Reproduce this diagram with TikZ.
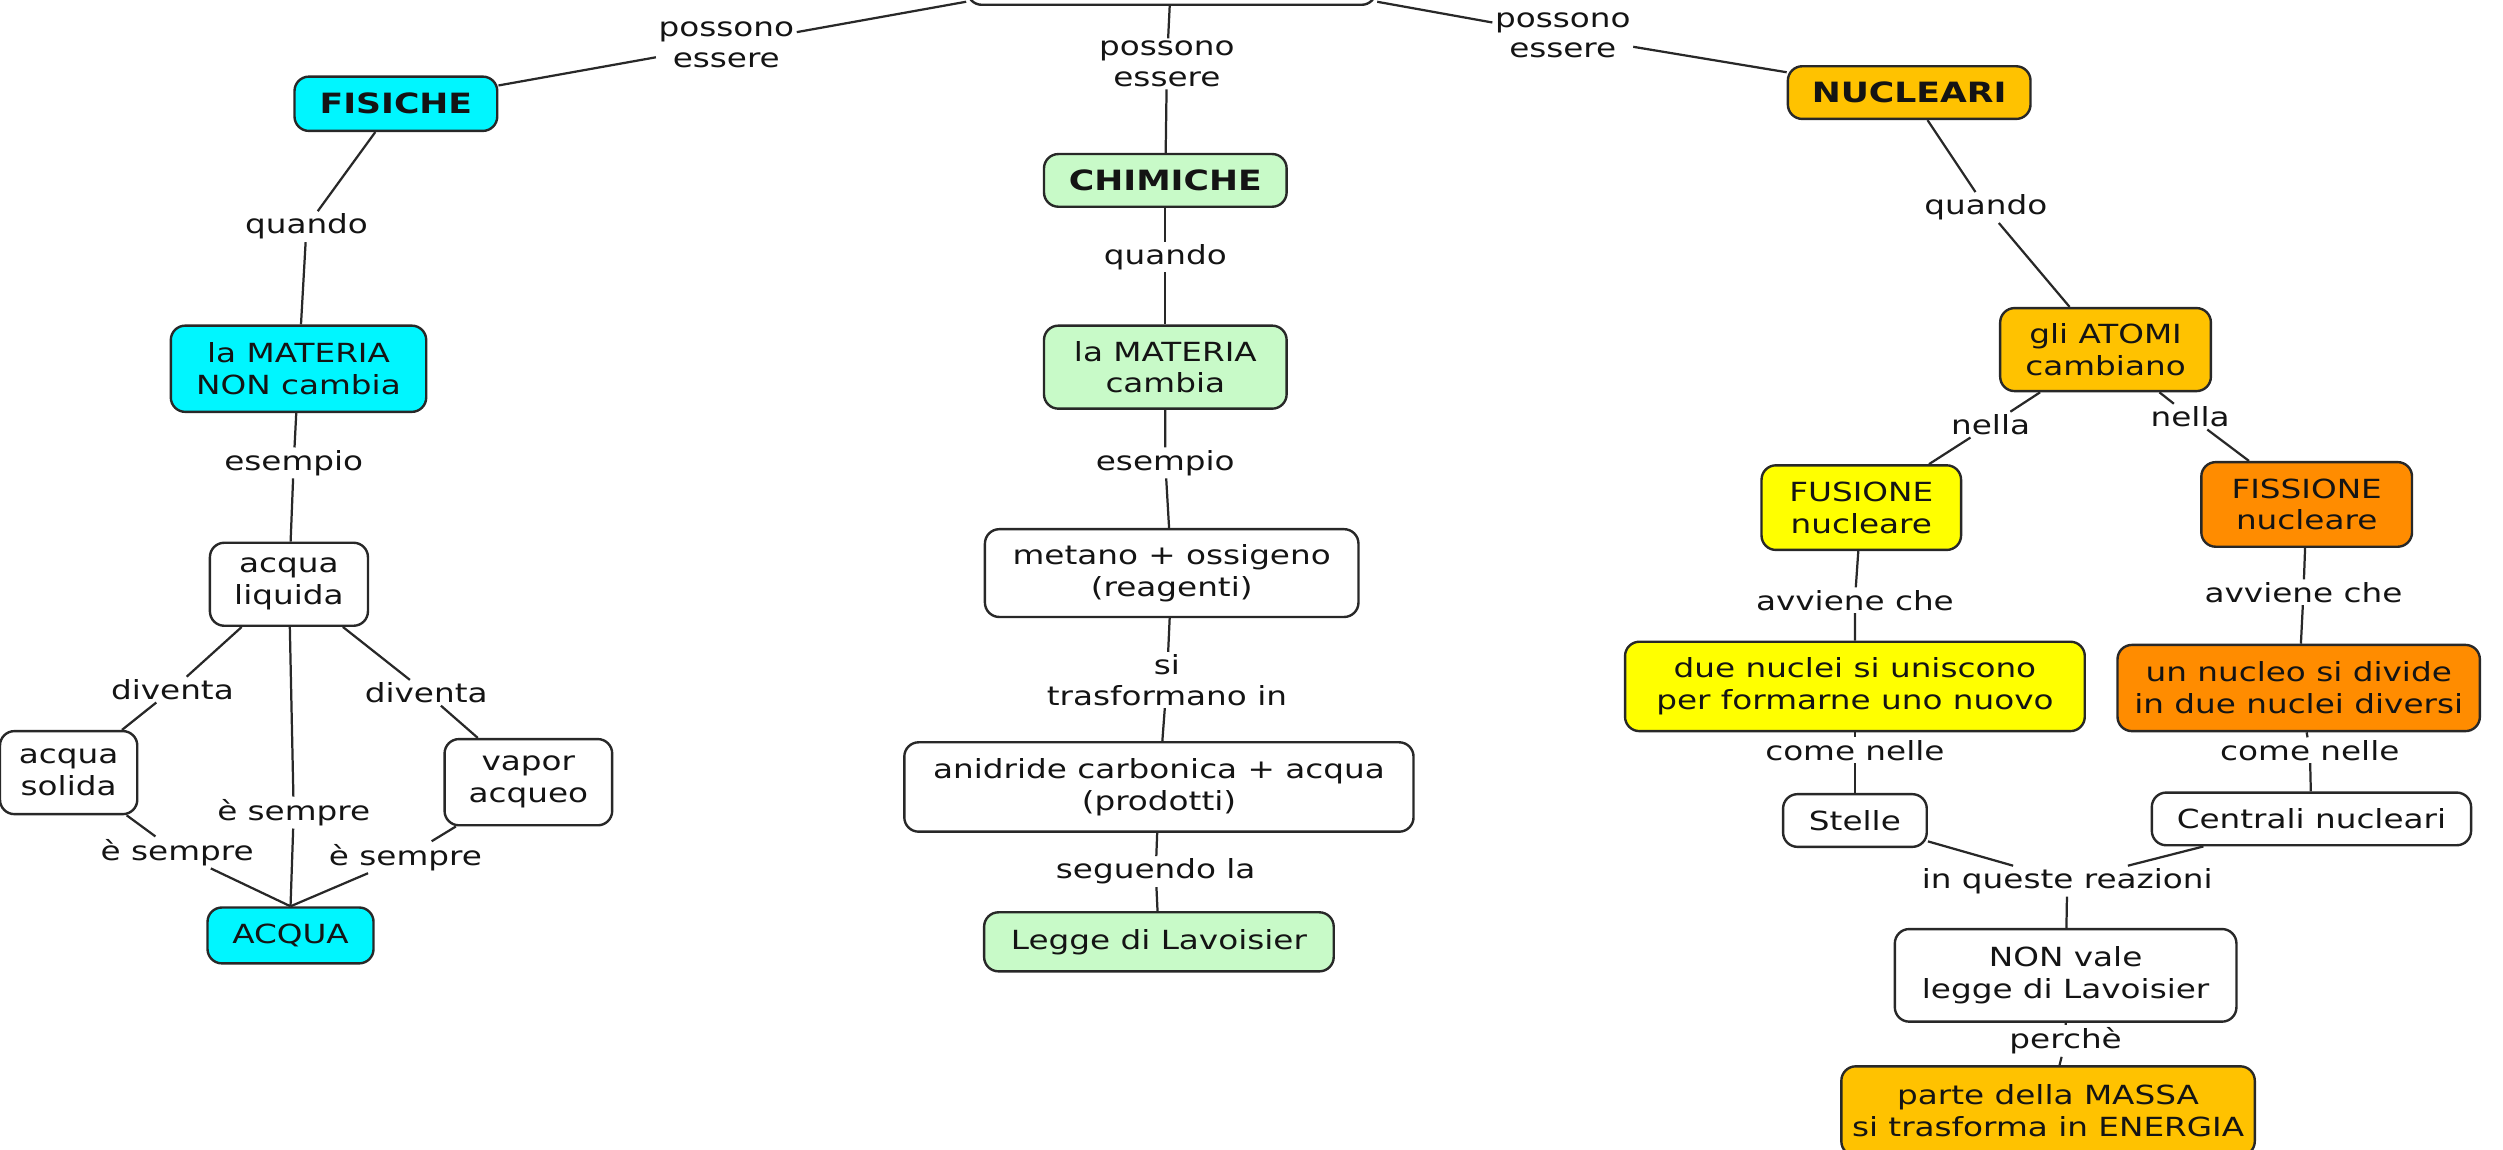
\documentclass[tikz,border=0pt]{standalone}
\usepackage{fontspec}
\setmainfont{DejaVu Sans}[FakeStretch=1.24]
\definecolor{ccyan}{RGB}{0,246,255}
\definecolor{cgreen}{RGB}{200,250,200}
\definecolor{cgold}{RGB}{255,194,0}
\definecolor{cyell}{RGB}{255,255,0}
\definecolor{corange}{RGB}{255,140,0}
\definecolor{cline}{RGB}{40,40,40}
\definecolor{ctext}{RGB}{20,20,20}
\tikzset{
  box/.style={draw=cline, line width=1.5pt, rounded corners=9pt, align=center,
    inner sep=0pt, text=ctext, font=\fontsize{16.5}{20}\selectfont},
  bbox/.style={box, font=\fontsize{17.5}{20}\selectfont\bfseries},
  lbl/.style={inner sep=1.5pt, align=center, text=ctext,
    font=\fontsize{16.5}{19}\selectfont},
  conn/.style={draw=cline, line width=1.4pt},
}
\begin{document}
\begin{tikzpicture}[x=1pt,y=-1pt]
\useasboundingbox (0,0) rectangle (1568,720);
% ---------- boxes ----------
\node[box, fill=white, minimum width=256pt, minimum height=50pt] (top) at (734,-22) {};
% left
\node[bbox, fill=ccyan, minimum width=127pt, minimum height=34pt] (fis) at (248,65) {FISICHE};
\node[box, fill=ccyan, minimum width=160pt, minimum height=54pt] (matL) at (187,231) {la MATERIA\\NON cambia};
\node[box, fill=white, minimum width=99pt, minimum height=52pt] (liq) at (181,366) {acqua\\liquida};
\node[box, fill=white, minimum width=86pt, minimum height=52pt] (sol) at (43,484) {acqua\\solida};
\node[box, fill=white, minimum width=105pt, minimum height=54pt] (vap) at (331,490) {vapor\\acqueo};
\node[box, fill=ccyan, minimum width=104pt, minimum height=35pt] (acq) at (182,586) {ACQUA};
% centre
\node[bbox, fill=cgreen, minimum width=152pt, minimum height=33pt] (chi) at (730,113) {CHIMICHE};
\node[box, fill=cgreen, minimum width=152pt, minimum height=52pt] (matC) at (730,230) {la MATERIA\\cambia};
\node[box, fill=white, minimum width=234pt, minimum height=55pt] (met) at (734,359) {metano + ossigeno\\(reagenti)};
\node[box, fill=white, minimum width=319pt, minimum height=56pt] (ani) at (726,493) {anidride carbonica + acqua\\(prodotti)};
\node[box, fill=cgreen, minimum width=219pt, minimum height=37pt] (leg) at (726,590) {Legge di Lavoisier};
% right
\node[bbox, fill=cgold, minimum width=152pt, minimum height=33pt] (nuc) at (1196,58) {NUCLEARI};
\node[box, fill=cgold, minimum width=132pt, minimum height=52pt] (ato) at (1319,219) {gli ATOMI\\cambiano};
\node[box, fill=cyell, minimum width=125pt, minimum height=53pt] (fus) at (1166,318) {FUSIONE\\nucleare};
\node[box, fill=corange, minimum width=132pt, minimum height=53pt] (fis2) at (1445,316) {FISSIONE\\nucleare};
\node[box, fill=cyell, minimum width=288pt, minimum height=56pt] (due) at (1162,430) {due nuclei si uniscono\\per formarne uno nuovo};
\node[box, fill=corange, minimum width=227pt, minimum height=54pt] (un) at (1440,431) {un nucleo si divide\\in due nuclei diversi};
\node[box, fill=white, minimum width=90pt, minimum height=33pt] (ste) at (1162,514) {Stelle};
\node[box, fill=white, minimum width=200pt, minimum height=33pt] (cen) at (1448,513) {Centrali nucleari};
\node[box, fill=white, minimum width=214pt, minimum height=58pt] (non) at (1294,611) {NON vale\\legge di Lavoisier};
\node[box, fill=cgold, minimum width=259pt, minimum height=56pt] (par) at (1283,696) {parte della MASSA\\si trasforma in ENERGIA};
% ---------- labels ----------
\node[lbl] (l1) at (455,28) {possono\\essere};
\node[lbl] (l2) at (731,40) {possono\\essere};
\node[lbl] (l3) at (979,22) {possono\\essere};
\node[lbl] (qL) at (192,142) {quando};
\node[lbl] (eL) at (184,290) {esempio};
\node[lbl] (dL) at (108,432) {diventa};
\node[lbl] (dR) at (267,434) {diventa};
\node[lbl] (sC) at (184,509) {è sempre};
\node[lbl] (sL) at (111,534) {è sempre};
\node[lbl] (sR) at (254,537) {è sempre};
\node[lbl] (qC) at (730,161) {quando};
\node[lbl] (eC) at (730,290) {esempio};
\node[lbl] (tC) at (731,426) {si\\trasformano in};
\node[lbl] (sgC) at (724,546) {seguendo la};
\node[lbl] (qR) at (1244,130) {quando};
\node[lbl] (nL) at (1247,266) {nella};
\node[lbl] (nR) at (1372,261) {nella};
\node[lbl] (aL) at (1162,376) {avviene che};
\node[lbl] (aR) at (1443,371) {avviene che};
\node[lbl] (cL) at (1162,470) {come nelle};
\node[lbl] (cR) at (1447,470) {come nelle};
\node[lbl] (iq) at (1295,552) {in queste reazioni};
\node[lbl] (pe) at (1294,652) {perchè};
% ---------- connectors ----------
\path[conn] (top) -- (l1) -- (fis);
\path[conn] (top) -- (l2) -- (chi);
\path[conn] (top) -- (l3) -- (nuc);
\path[conn] (fis) -- (qL) -- (matL);
\path[conn] (matL) -- (eL) -- (liq);
\path[conn] (liq) -- (dL) -- (sol);
\path[conn] (liq) -- (dR) -- (vap);
\path[conn] (liq) -- (sC) -- (acq.north);
\path[conn] (sol) -- (sL) -- (acq.north);
\path[conn] (vap) -- (sR) -- (acq.north);
\path[conn] (chi) -- (qC) -- (matC);
\path[conn] (matC) -- (eC) -- (met);
\path[conn] (met) -- (tC) -- (ani);
\path[conn] (ani) -- (sgC) -- (leg);
\path[conn] (nuc) -- (qR) -- (ato);
\path[conn] (ato) -- (nL) -- (fus);
\path[conn] (ato) -- (nR) -- (fis2);
\path[conn] (fus) -- (aL) -- (due);
\path[conn] (fis2) -- (aR) -- (un);
\path[conn] (due) -- (cL) -- (ste);
\path[conn] (un) -- (cR) -- (cen);
\path[conn] (ste) -- (iq);
\path[conn] (cen) -- (iq);
\path[conn] (iq) -- (non);
\path[conn] (non) -- (pe) -- (par);
\end{tikzpicture}
\end{document}
